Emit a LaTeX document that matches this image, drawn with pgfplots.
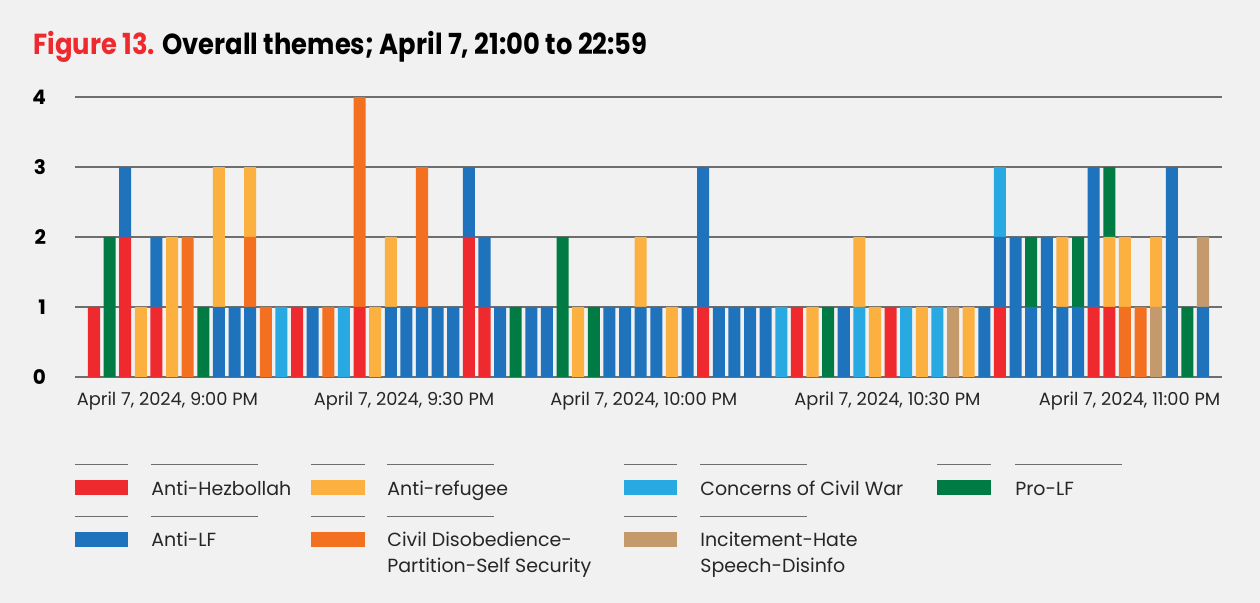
\documentclass[border=0pt]{standalone}
\usepackage{pgfplots}
\usepackage{pgfplotstable}
\usepackage{fontspec}
\pgfplotsset{compat=1.18}
\setmainfont{Poppins}
\newfontfamily\titlefont[FakeStretch=0.89]{Poppins}

\definecolor{cred}{HTML}{EE2A2E}
\definecolor{cblue}{HTML}{1F73BC}
\definecolor{corange}{HTML}{F37021}
\definecolor{cyellow}{HTML}{FBB040}
\definecolor{csky}{HTML}{29A9E1}
\definecolor{ctan}{HTML}{C49A6C}
\definecolor{cgreen}{HTML}{007B44}
\definecolor{bg}{HTML}{F1F1F1}
\definecolor{gridgray}{HTML}{6E6E6E}

% one row per time bin; stacked bottom to top
\pgfplotstableread{
x  red blue civil concerns incit antiref green
1  1 0 0 0 0 0 0
2  0 0 0 0 0 0 2
3  2 1 0 0 0 0 0
4  0 0 0 0 0 1 0
5  1 1 0 0 0 0 0
6  0 0 0 0 0 2 0
7  0 0 2 0 0 0 0
8  0 0 0 0 0 0 1
9  0 1 0 0 0 2 0
10 0 1 0 0 0 0 0
11 0 1 1 0 0 1 0
12 0 0 1 0 0 0 0
13 0 0 0 1 0 0 0
14 1 0 0 0 0 0 0
15 0 1 0 0 0 0 0
16 0 0 1 0 0 0 0
17 0 0 0 1 0 0 0
18 1 0 3 0 0 0 0
19 0 0 0 0 0 1 0
20 0 1 0 0 0 1 0
21 0 1 0 0 0 0 0
22 0 1 2 0 0 0 0
23 0 1 0 0 0 0 0
24 0 1 0 0 0 0 0
25 2 1 0 0 0 0 0
26 1 1 0 0 0 0 0
27 0 1 0 0 0 0 0
28 0 0 0 0 0 0 1
29 0 1 0 0 0 0 0
30 0 1 0 0 0 0 0
31 0 0 0 0 0 0 2
32 0 0 0 0 0 1 0
33 0 0 0 0 0 0 1
34 0 1 0 0 0 0 0
35 0 1 0 0 0 0 0
36 0 1 0 0 0 1 0
37 0 1 0 0 0 0 0
38 0 0 0 0 0 1 0
39 0 1 0 0 0 0 0
40 1 2 0 0 0 0 0
41 0 1 0 0 0 0 0
42 0 1 0 0 0 0 0
43 0 1 0 0 0 0 0
44 0 1 0 0 0 0 0
45 0 0 0 1 0 0 0
46 1 0 0 0 0 0 0
47 0 0 0 0 0 1 0
48 0 0 0 0 0 0 1
49 0 1 0 0 0 0 0
50 0 0 0 1 0 1 0
51 0 0 0 0 0 1 0
52 1 0 0 0 0 0 0
53 0 0 0 1 0 0 0
54 0 0 0 0 0 1 0
55 0 0 0 1 0 0 0
56 0 0 0 0 1 0 0
57 0 0 0 0 0 1 0
58 0 1 0 0 0 0 0
59 1 1 0 1 0 0 0
60 0 2 0 0 0 0 0
61 0 1 0 0 0 0 1
62 0 2 0 0 0 0 0
63 0 1 0 0 0 1 0
64 0 1 0 0 0 0 1
65 1 2 0 0 0 0 0
66 1 0 0 0 0 1 1
67 0 0 1 0 0 1 0
68 0 0 1 0 0 0 0
69 0 0 0 0 1 1 0
70 0 3 0 0 0 0 0
71 0 0 0 0 0 0 1
72 0 1 0 0 1 0 0
}\themes

\begin{document}
\begin{tikzpicture}
\begin{scope}[x=0.5pt,y=-0.5pt]
\fill[bg] (0,0) rectangle (1260,603);
\path[use as bounding box] (0,0) rectangle (1260,603);

\node[anchor=west, inner sep=0, font=\titlefont\bfseries\fontsize{14.5pt}{17pt}\selectfont]
  at (33,47) {\textcolor{cred}{Figure 13.} Overall themes; April 7, 21:00 to 22:59};
\end{scope}

\begin{axis}[
  at={(37.5pt,-188.5pt)}, anchor=south west,
  scale only axis, width=573.5pt, height=140pt,
  xmin=-0.216, xmax=73.216, ymin=0, ymax=4,
  ybar stacked, bar width=0.77, bar shift=0pt,
  axis line style={draw=none},
  ymajorgrids, grid style={gridgray, line width=0.6pt},
  major tick length=0pt,
  /pgf/number format/assume math mode=true,
  ytick={0,1,2,3,4},
  yticklabel style={font=\bfseries\fontsize{10pt}{12pt}\selectfont, anchor=east, xshift=-11pt},
  xtick={5.7,20.85,36.2,51.8,67.3},
  xticklabels={{April 7, 2024, 9:00 PM},{April 7, 2024, 9:30 PM},{April 7, 2024, 10:00 PM},{April 7, 2024, 10:30 PM},{April 7, 2024, 11:00 PM}},
  xticklabel style={font=\fontsize{8.9pt}{10pt}\selectfont, text=black!85, yshift=-4pt},
  every axis plot/.append style={draw=none},
]
\addplot[fill=cred] table[x=x, y=red] {\themes};
\addplot[fill=cblue] table[x=x, y=blue] {\themes};
\addplot[fill=corange] table[x=x, y=civil] {\themes};
\addplot[fill=csky] table[x=x, y=concerns] {\themes};
\addplot[fill=ctan] table[x=x, y=incit] {\themes};
\addplot[fill=cyellow] table[x=x, y=antiref] {\themes};
\addplot[fill=cgreen] table[x=x, y=green] {\themes};
\end{axis}

% legend
\begin{scope}[x=0.5pt,y=-0.5pt, every node/.style={anchor=base west, inner sep=0, font=\fontsize{9.5pt}{11pt}\selectfont, text=black!85}]
  \draw[gridgray, line width=0.5pt] (75,465) -- (128,465) (151,465) -- (258,465)
                                    (311,465) -- (365,465) (387,465) -- (494,465)
                                    (624,465) -- (677,465) (700,465) -- (807,465)
                                    (937,465) -- (991,465) (1015,465) -- (1122,465)
                                    (75,517) -- (128,517) (151,517) -- (258,517)
                                    (311,517) -- (365,517) (387,517) -- (494,517)
                                    (624,517) -- (677,517) (700,517) -- (807,517);
  \fill[cred] (75,480) rectangle (128,495);
  \fill[cyellow] (311,480) rectangle (365,495);
  \fill[csky] (624,480) rectangle (677,495);
  \fill[cgreen] (937,480) rectangle (991,495);
  \fill[cblue] (75,532) rectangle (128,547);
  \fill[corange] (311,532) rectangle (365,547);
  \fill[ctan] (624,532) rectangle (677,547);
  \node at (151,496) {Anti-Hezbollah};
  \node at (387,496) {Anti-refugee};
  \node at (700,496) {Concerns of Civil War};
  \node at (1015,496) {Pro-LF};
  \node at (151,547) {Anti-LF};
  \node at (387,547) {Civil Disobedience-};
  \node at (387,573) {Partition-Self Security};
  \node at (700,547) {Incitement-Hate};
  \node at (700,573) {Speech-Disinfo};
\end{scope}
\end{tikzpicture}
\end{document}
